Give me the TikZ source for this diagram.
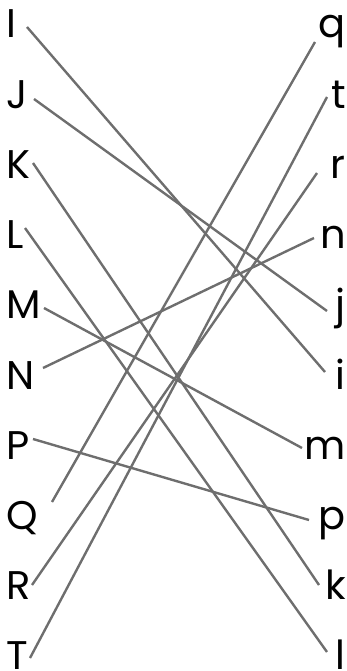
\documentclass[tikz,border=0pt]{standalone}
\usepackage{fontspec}
\setmainfont{Poppins}
\definecolor{lgray}{RGB}{110,110,110}

\begin{document}
\begin{tikzpicture}[
    x=1pt, y=-1pt,
    letter/.style={inner sep=0pt, font=\fontsize{40}{48}\selectfont},
    lft/.style={letter, anchor=base west},
    rgt/.style={letter, anchor=base east},
    link/.style={draw=lgray, line width=2.4pt}
]

\useasboundingbox (0,0) rectangle (347,671);

% letters on the left and on the right
\foreach \n [count=\k from 0] in {I,J,K,L,M,N,P,Q,R,T}
    \node[lft] (\n) at (6,{38+70.2*\k}) {\n};
\foreach \n [count=\k from 0] in {q,t,r,n,j,i,m,p,k,l}
    \node[rgt] (\n) at (346,{38+70.2*\k}) {\n};

% matching lines
\draw[link] ([shift={(21,-11)}]I.base west) -- ([shift={(-21,-17)}]i.base east);
\draw[link] ([shift={(28,-9.2)}]J.base west) -- ([shift={(-19,-7.8)}]j.base east);
\draw[link] ([shift={(27,-15.4)}]K.base west) -- ([shift={(-27,-14.6)}]k.base east);
\draw[link] ([shift={(19,-20.6)}]L.base west) -- ([shift={(-19,-17.8)}]l.base east);
\draw[link] ([shift={(38,-10.8)}]M.base west) -- ([shift={(-44,-11.2)}]m.base east);
\draw[link] ([shift={(37,-21)}]N.base west) -- ([shift={(-32,-10.6)}]n.base east);
\draw[link] ([shift={(27,-20.2)}]P.base west) -- ([shift={(-37,-9.4)}]p.base east);
\draw[link] ([shift={(46,-27.4)}]Q.base west) -- ([shift={(-31,4)}]q.base east);
\draw[link] ([shift={(26,-14.6)}]R.base west) -- ([shift={(-29,-5.4)}]r.base east);
\draw[link] ([shift={(24,-11.8)}]T.base west) -- ([shift={(-19,-11.2)}]t.base east);

\end{tikzpicture}
\end{document}
